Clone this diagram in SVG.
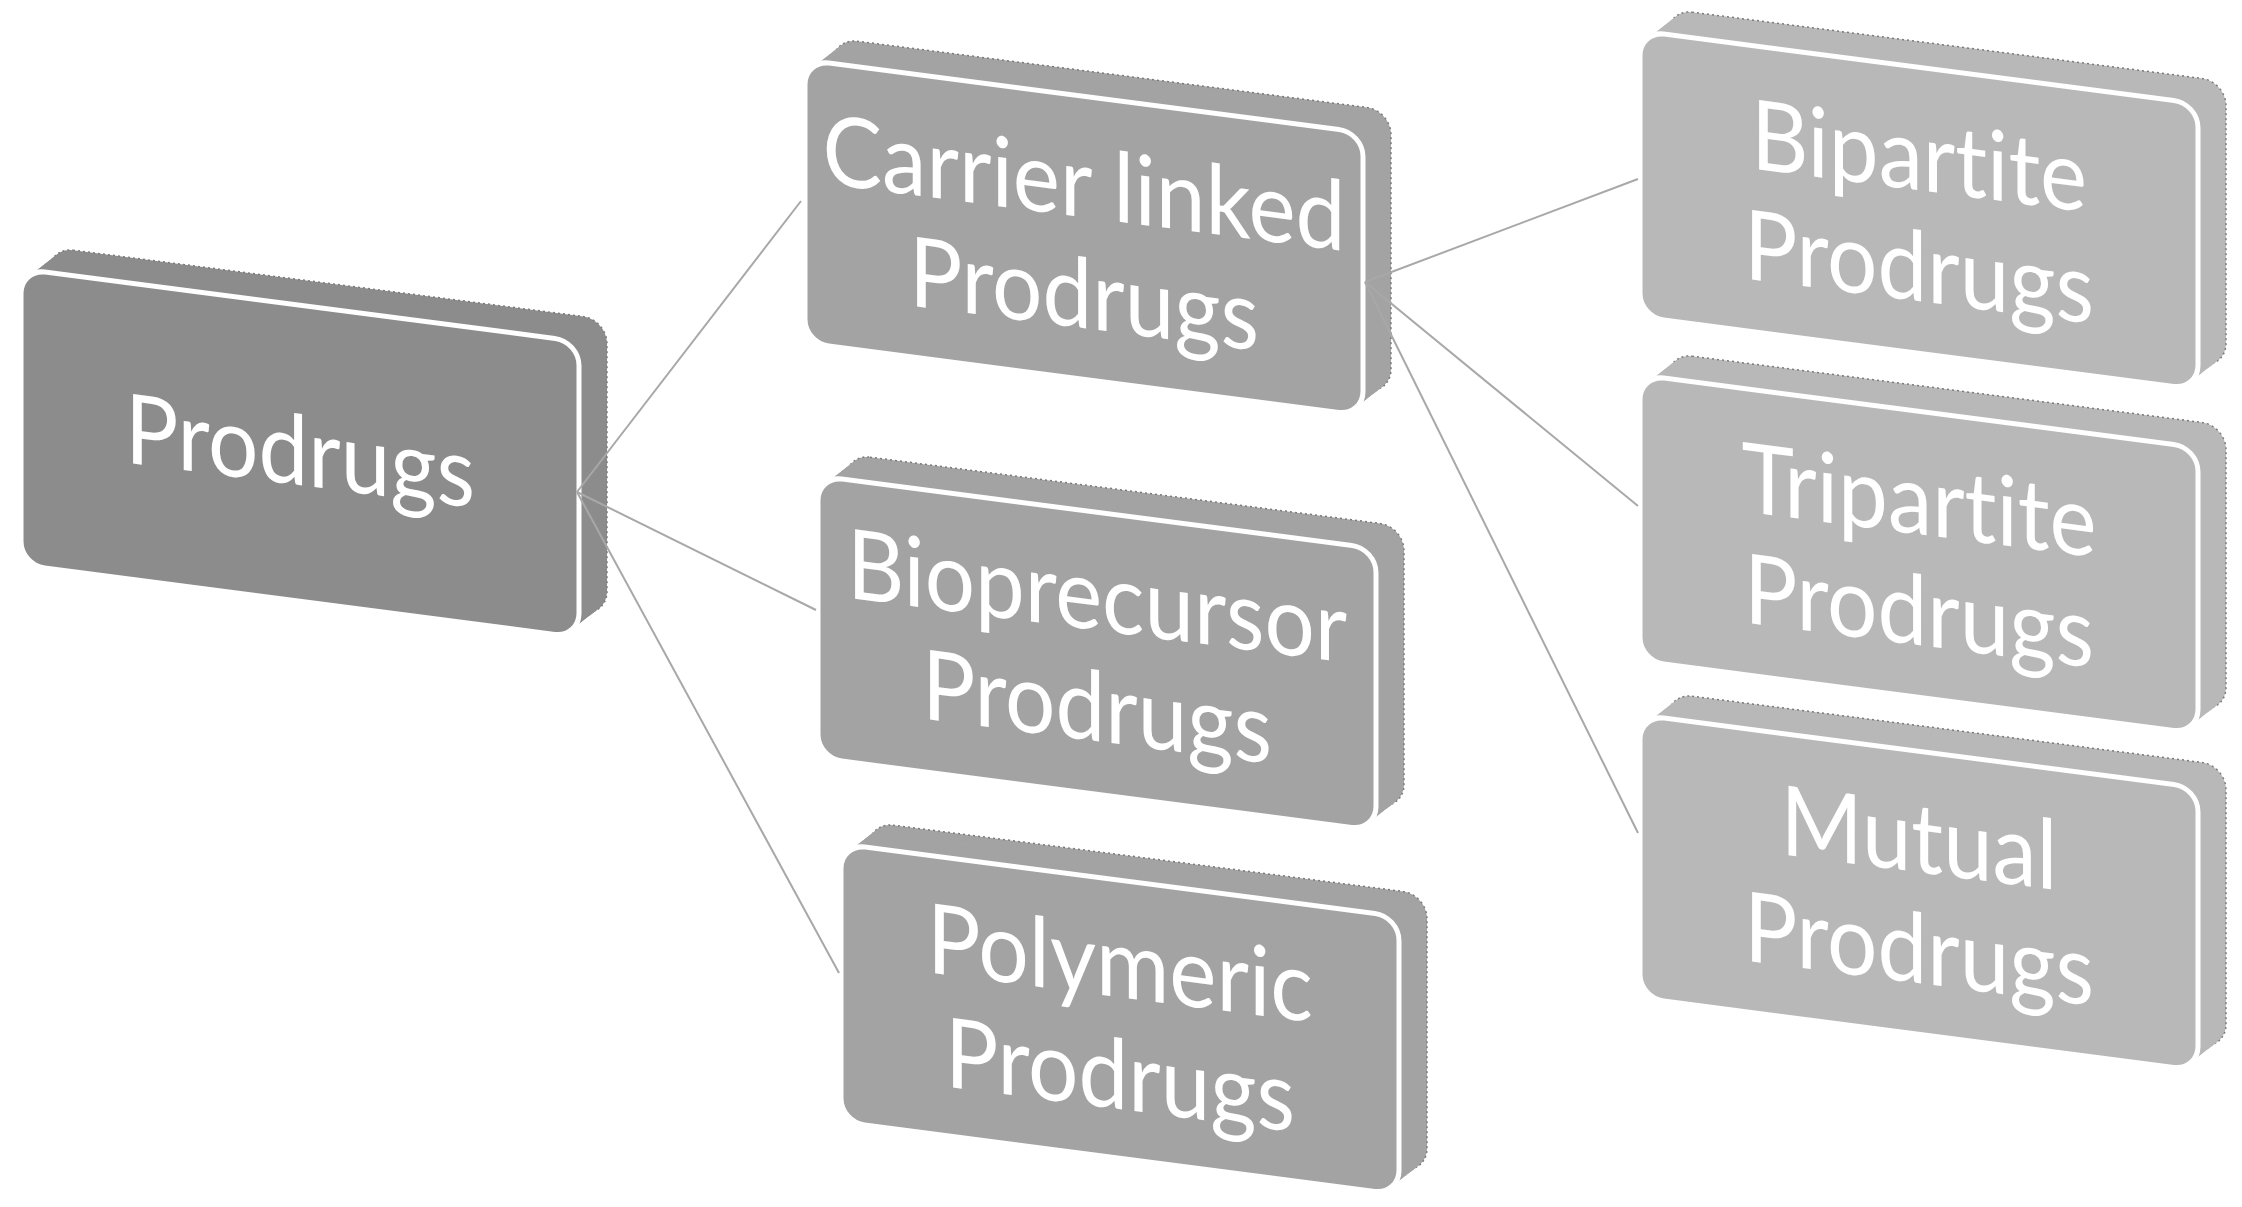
<svg xmlns="http://www.w3.org/2000/svg" width="2242" height="1207" viewBox="0 0 2242 1207">
<style>
  .lvl0 { fill: #8c8c8c; }
  .lvl1 { fill: #a3a3a3; }
  .lvl2 { fill: #b8b8b8; }
  .rim { stroke: #7c7c7c; stroke-width: 1.5; stroke-dasharray: 2 3; }
  .face { stroke: #ffffff; stroke-width: 5; }
  .label { font-family: Lato, "Liberation Sans", sans-serif; font-size: 97px; fill: #ffffff; text-anchor: middle; font-variant-ligatures: none; font-feature-settings: "liga" 0, "clig" 0; }
  .link { stroke: #a8a8a8; stroke-width: 2; fill: none; }
</style>
<defs>
  <rect id="r296" width="558" height="296" rx="24"/>
  <rect id="r286" width="558" height="286" rx="24"/>
  <rect id="r283" width="558" height="283" rx="24"/>
  <rect id="r282" width="558" height="282" rx="24"/>
  <rect id="r278" width="558" height="278" rx="24"/>
</defs>
<rect width="2242" height="1207" fill="#ffffff"/>

<!-- root block -->
<g id="node-prodrugs" class="lvl0" transform="matrix(1,0.13,0,1,21,269)">
  <use href="#r296" x="28" y="-25.6" class="rim"/>
  <use href="#r296" x="24.5" y="-22.4"/>
  <use href="#r296" x="21" y="-19.2"/>
  <use href="#r296" x="17.5" y="-16"/>
  <use href="#r296" x="14" y="-12.8"/>
  <use href="#r296" x="10.5" y="-9.6"/>
  <use href="#r296" x="7" y="-6.4"/>
  <use href="#r296" x="3.5" y="-3.2"/>
  <use href="#r296" class="face"/>
  <text class="label" x="279" y="180" textLength="350" lengthAdjust="spacingAndGlyphs">Prodrugs</text>
</g>

<!-- second level -->
<g id="node-carrier-linked" class="lvl1" transform="matrix(1,0.13,0,1,805,60)">
  <use href="#r283" x="28" y="-25.6" class="rim"/>
  <use href="#r283" x="24.5" y="-22.4"/>
  <use href="#r283" x="21" y="-19.2"/>
  <use href="#r283" x="17.5" y="-16"/>
  <use href="#r283" x="14" y="-12.8"/>
  <use href="#r283" x="10.5" y="-9.6"/>
  <use href="#r283" x="7" y="-6.4"/>
  <use href="#r283" x="3.5" y="-3.2"/>
  <use href="#r283" class="face"/>
  <text class="label" x="279" y="121" textLength="523" lengthAdjust="spacingAndGlyphs">Carrier linked</text>
  <text class="label" x="279" y="232" textLength="350" lengthAdjust="spacingAndGlyphs">Prodrugs</text>
</g>

<g id="node-bioprecursor" class="lvl1" transform="matrix(1,0.13,0,1,818,476)">
  <use href="#r282" x="28" y="-25.6" class="rim"/>
  <use href="#r282" x="24.5" y="-22.4"/>
  <use href="#r282" x="21" y="-19.2"/>
  <use href="#r282" x="17.5" y="-16"/>
  <use href="#r282" x="14" y="-12.8"/>
  <use href="#r282" x="10.5" y="-9.6"/>
  <use href="#r282" x="7" y="-6.4"/>
  <use href="#r282" x="3.5" y="-3.2"/>
  <use href="#r282" class="face"/>
  <text class="label" x="279" y="118" textLength="500" lengthAdjust="spacingAndGlyphs">Bioprecursor</text>
  <text class="label" x="279" y="229" textLength="350" lengthAdjust="spacingAndGlyphs">Prodrugs</text>
</g>

<g id="node-polymeric" class="lvl1" transform="matrix(1,0.13,0,1,841,844)">
  <use href="#r278" x="28" y="-25.6" class="rim"/>
  <use href="#r278" x="24.5" y="-22.4"/>
  <use href="#r278" x="21" y="-19.2"/>
  <use href="#r278" x="17.5" y="-16"/>
  <use href="#r278" x="14" y="-12.8"/>
  <use href="#r278" x="10.5" y="-9.6"/>
  <use href="#r278" x="7" y="-6.4"/>
  <use href="#r278" x="3.5" y="-3.2"/>
  <use href="#r278" class="face"/>
  <text class="label" x="279" y="117" textLength="386" lengthAdjust="spacingAndGlyphs">Polymeric</text>
  <text class="label" x="279" y="229" textLength="350" lengthAdjust="spacingAndGlyphs">Prodrugs</text>
</g>

<!-- third level -->
<g id="node-bipartite" class="lvl2" transform="matrix(1,0.13,0,1,1640,31)">
  <use href="#r286" x="28" y="-25.6" class="rim"/>
  <use href="#r286" x="24.5" y="-22.4"/>
  <use href="#r286" x="21" y="-19.2"/>
  <use href="#r286" x="17.5" y="-16"/>
  <use href="#r286" x="14" y="-12.8"/>
  <use href="#r286" x="10.5" y="-9.6"/>
  <use href="#r286" x="7" y="-6.4"/>
  <use href="#r286" x="3.5" y="-3.2"/>
  <use href="#r286" class="face"/>
  <text class="label" x="279" y="123" textLength="336" lengthAdjust="spacingAndGlyphs">Bipartite</text>
  <text class="label" x="279" y="234" textLength="350" lengthAdjust="spacingAndGlyphs">Prodrugs</text>
</g>

<g id="node-tripartite" class="lvl2" transform="matrix(1,0.13,0,1,1640,375)">
  <use href="#r286" x="28" y="-25.6" class="rim"/>
  <use href="#r286" x="24.5" y="-22.4"/>
  <use href="#r286" x="21" y="-19.2"/>
  <use href="#r286" x="17.5" y="-16"/>
  <use href="#r286" x="14" y="-12.8"/>
  <use href="#r286" x="10.5" y="-9.6"/>
  <use href="#r286" x="7" y="-6.4"/>
  <use href="#r286" x="3.5" y="-3.2"/>
  <use href="#r286" class="face"/>
  <text class="label" x="279" y="123" textLength="355" lengthAdjust="spacingAndGlyphs">Tripartite</text>
  <text class="label" x="279" y="234" textLength="350" lengthAdjust="spacingAndGlyphs">Prodrugs</text>
</g>

<g id="node-mutual" class="lvl2" transform="matrix(1,0.13,0,1,1640,715)">
  <use href="#r283" x="28" y="-25.6" class="rim"/>
  <use href="#r283" x="24.5" y="-22.4"/>
  <use href="#r283" x="21" y="-19.2"/>
  <use href="#r283" x="17.5" y="-16"/>
  <use href="#r283" x="14" y="-12.8"/>
  <use href="#r283" x="10.5" y="-9.6"/>
  <use href="#r283" x="7" y="-6.4"/>
  <use href="#r283" x="3.5" y="-3.2"/>
  <use href="#r283" class="face"/>
  <text class="label" x="279" y="121" textLength="277" lengthAdjust="spacingAndGlyphs">Mutual</text>
  <text class="label" x="279" y="232" textLength="350" lengthAdjust="spacingAndGlyphs">Prodrugs</text>
</g>

<!-- connectors -->
<g id="connectors" class="link">
  <line x1="577" y1="492" x2="801" y2="201"/>
  <line x1="577" y1="492" x2="816" y2="610"/>
  <line x1="577" y1="492" x2="839" y2="973"/>
  <line x1="1365" y1="282" x2="1638" y2="179"/>
  <line x1="1365" y1="282" x2="1638" y2="506"/>
  <line x1="1365" y1="282" x2="1638" y2="833"/>
</g>
</svg>
